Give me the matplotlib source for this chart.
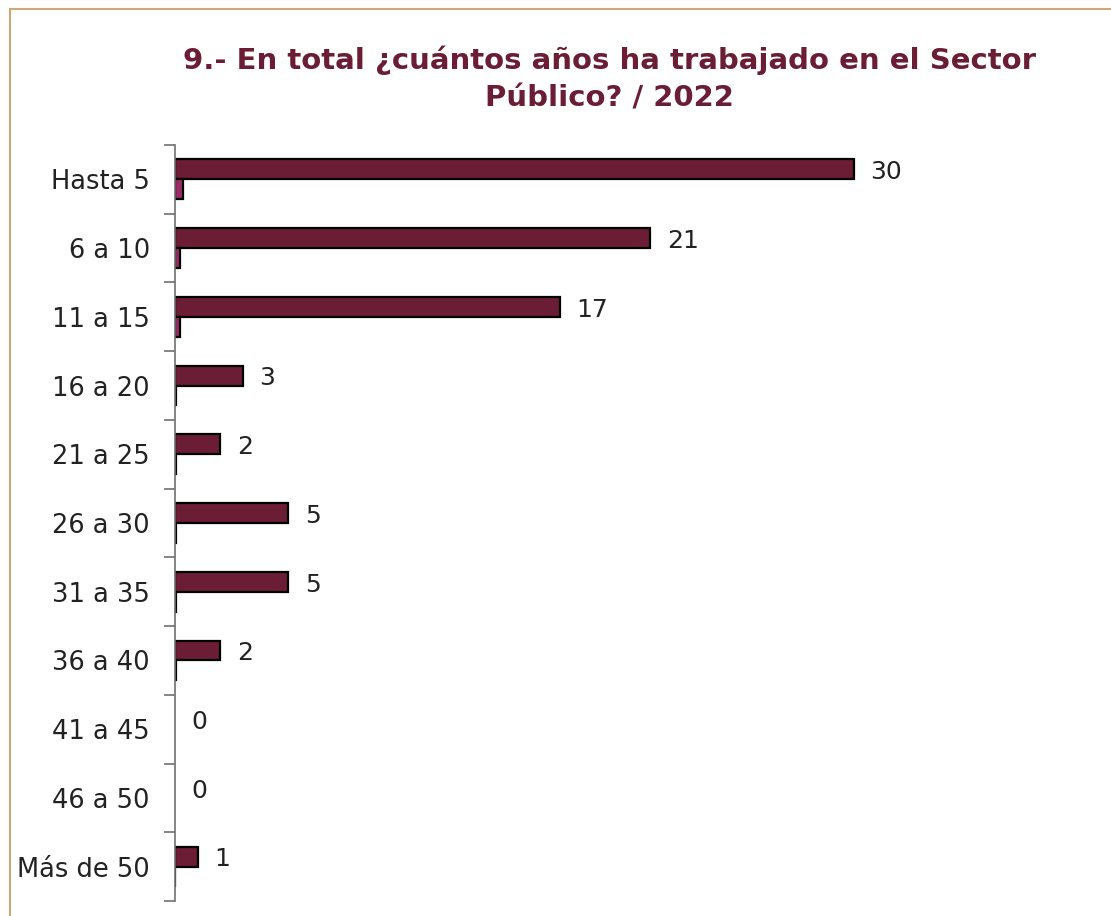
import numpy as np
import matplotlib.pyplot as plt
from matplotlib.patches import Rectangle

# datos de la pregunta 9
categorias = ["Hasta 5", "6 a 10", "11 a 15", "16 a 20", "21 a 25", "26 a 30",
              "31 a 35", "36 a 40", "41 a 45", "46 a 50", "Más de 50"]
personas = [30, 21, 17, 3, 2, 5, 5, 2, 0, 0, 1]
proporcion = [0.35, 0.24, 0.20, 0.035, 0.023, 0.058, 0.058, 0.023, 0, 0, 0.012]

vino = "#6A1D35"
magenta = "#9A2C66"

plt.rcParams['font.family'] = ['DejaVu Sans']

fig = plt.figure(figsize=(11.11, 9.16), dpi=100)
ax = fig.add_axes([175 / 1111, 1 - 901 / 916, 900 / 1111, 756 / 916])

# marco alrededor de la figura
fig.patches.append(Rectangle((10 / 1111, -0.1), 1.2, 1 - 9 / 916 + 0.1,
                             transform=fig.transFigure, fill=False,
                             edgecolor="#C9A978", lw=1.5))

y = np.arange(len(categorias))
alto = 0.29
# sin borde cuando el valor es cero
bordes1 = [1.6 if v > 0 else 0 for v in personas]
bordes2 = [1.6 if v > 0 else 0 for v in proporcion]
ax.barh(y - alto / 2, personas, height=alto, color=vino, edgecolor="black", lw=bordes1)
ax.barh(y + alto / 2, proporcion, height=alto, color=magenta, edgecolor="black", lw=bordes2)

for yi, v in zip(y, personas):
    ax.annotate(str(v), (v, yi - alto / 2), xytext=(12, -2), textcoords="offset points",
                ha="left", va="center", fontsize=18, color="#222222")

ax.set_xlim(0, 900 / 22.63)
ax.set_ylim(len(categorias) - 0.5, -0.5)
ax.set_xticks([])
ax.set_yticks(y)
ax.set_yticklabels(categorias, fontsize=18.5, color="#222222")
ax.set_yticks(np.arange(len(categorias) + 1) - 0.5, minor=True)
ax.tick_params(axis="y", which="major", length=0, pad=18)
ax.tick_params(axis="y", which="minor", length=8, color="#707070", width=1.2)
for s in ["top", "right", "bottom"]:
    ax.spines[s].set_visible(False)
ax.spines["left"].set_color("#707070")
ax.spines["left"].set_linewidth(1.2)

fig.text(609 / 1111, 1 - 79 / 916,
         "9.- En total ¿cuántos años ha trabajado en el Sector\nPúblico? / 2022",
         ha="center", va="center", fontsize=21, fontweight="bold", color=vino,
         linespacing=1.45)

fig.savefig("out.png", dpi=100, facecolor="white")
